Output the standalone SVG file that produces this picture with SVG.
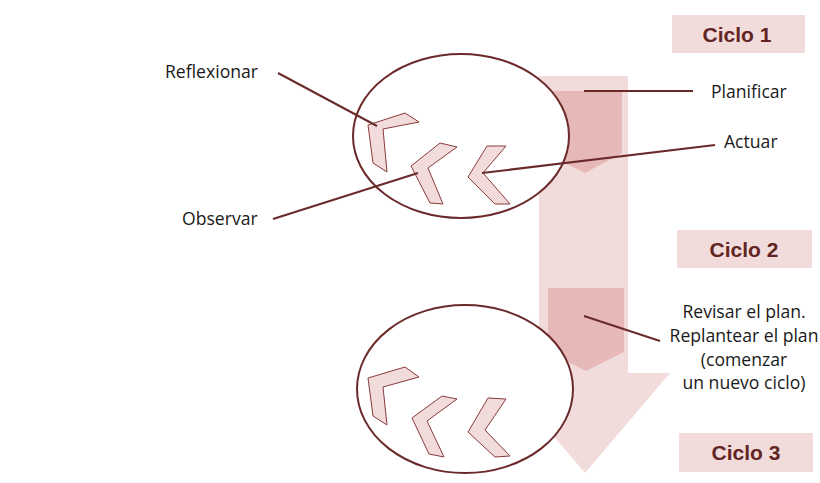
<svg xmlns="http://www.w3.org/2000/svg" width="820" height="483" viewBox="0 0 820 483">
<style>
.lbl{font-family:"Open Sans","Noto Sans",sans-serif;font-size:17.6px;fill:#1a1a1a}
.cyc{font-family:"Liberation Sans",Arial,sans-serif;font-size:21px;font-weight:bold;fill:#632523;text-anchor:middle}
.box{fill:#f2dcdb}
.ell{fill:#ffffff;stroke:#6b2a2a;stroke-width:2}
.chev{fill:#f2dcdb;stroke:#8b3a3a;stroke-width:1}
.conn{stroke:#6b2a2a;stroke-width:2;fill:none}
</style>
<rect width="820" height="483" fill="#ffffff"/>
<g id="bigArrow">
<polygon points="539,76 628,76 628,373 670,373 585,473 500,373 539,373" fill="#f2dcdb"/>
<polygon points="544,91 622,91 622,153 585,173 544,153" fill="#e6b8b7"/>
<polygon points="548,288 624,288 624,352 586,371 548,352" fill="#e6b8b7"/>
</g>
<g id="cycle1">
<ellipse class="ell" cx="461" cy="136" rx="108" ry="82"/>
<polygon class="chev" points="368,125 405,113 419,122 383,129 387,172 373,163"/>
<polygon class="chev" points="440,143 457,147 428,168 443,204 430,203 411,166"/>
<polygon class="chev" points="487,146 506,146 483,173 510,204 495,204 468,177"/>
</g>
<g id="cycle2">
<ellipse class="ell" cx="465" cy="389" rx="108" ry="84"/>
<polygon class="chev" points="368,378 405,367 419,377 383,387 387,425 373,416"/>
<polygon class="chev" points="442,396 457,399 427,421 444,457 429,454 412,418"/>
<polygon class="chev" points="488,398 506,399 485,430 510,456 495,457 468,432"/>
</g>
<g id="connectors">
<line class="conn" x1="278" y1="73" x2="377" y2="126"/>
<line class="conn" x1="273" y1="219" x2="418" y2="173"/>
<line class="conn" x1="584" y1="91" x2="693" y2="91"/>
<line class="conn" x1="482" y1="173" x2="715" y2="145"/>
<line class="conn" x1="584" y1="316" x2="660" y2="341"/>
</g>
<g id="ciclo1"><rect class="box" x="672" y="15" width="133" height="38"/><text class="cyc" x="737" y="42">Ciclo 1</text></g>
<g id="ciclo2"><rect class="box" x="677" y="230" width="135" height="38"/><text class="cyc" x="744" y="257">Ciclo 2</text></g>
<g id="ciclo3"><rect class="box" x="679" y="433" width="134" height="39"/><text class="cyc" x="746" y="460">Ciclo 3</text></g>
<g id="reflexionar"><text class="lbl" x="165" y="78">Reflexionar</text></g>
<g id="observar"><text class="lbl" x="182" y="225">Observar</text></g>
<g id="planificar"><text class="lbl" x="711" y="98">Planificar</text></g>
<g id="actuar"><text class="lbl" x="724" y="148">Actuar</text></g>
<g id="revisar">
<text class="lbl" text-anchor="middle" x="744" y="318">Revisar el plan.</text>
<text class="lbl" text-anchor="middle" x="744" y="342">Replantear el plan</text>
<text class="lbl" text-anchor="middle" x="744" y="366">(comenzar</text>
<text class="lbl" text-anchor="middle" x="744" y="389">un nuevo ciclo)</text>
</g>
</svg>
